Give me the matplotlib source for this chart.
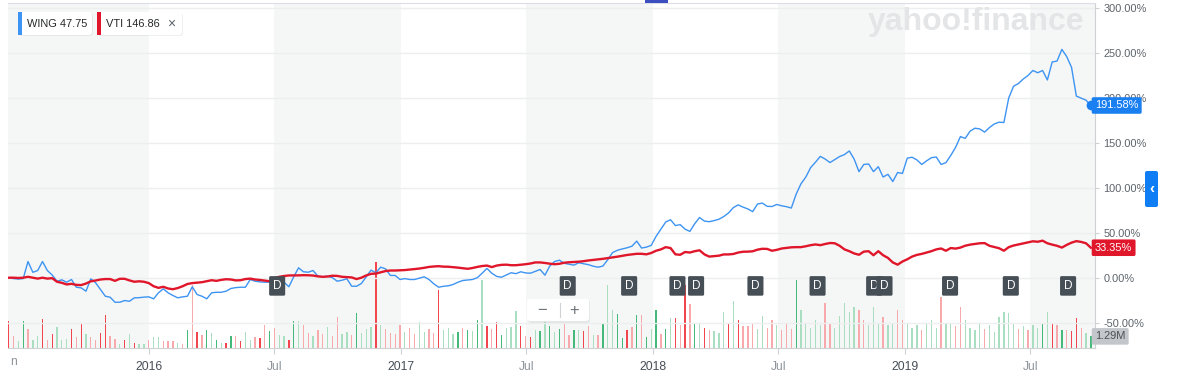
import numpy as np
import pandas as pd
import matplotlib
matplotlib.use("Agg")
import matplotlib.pyplot as plt
import matplotlib.transforms as mtransforms
from matplotlib.patches import FancyBboxPatch, Rectangle

plt.rcParams['font.family'] = ['Liberation Sans', 'DejaVu Sans']

# weekly closes, % change since 2015-06-12
start_date = "2015-06-12"
wing_pct = [
    0, -1, -1.5, -1, 18, 6, 8, 18, 8, 3,
    -3.9, -2.4, -5, -2, -10.6, -11.3, -15, -1.2, -5.7, -13.2,
    -20.6, -21.7, -27.3, -27.3, -25.4, -26.2, -22.4, -22.2, -21.6, -21.3,
    -23.5, -16.8, -12.4, -16.8, -19.8, -22.4, -21.3, -20.6, -10.1, -18.7,
    -20.6, -23.5, -16.8, -16.2, -16.2, -15, -12, -11, -10.6, -10.6,
    -2, -3.9, -4.6, -5, -5, -4.2, -3.1, -5, -10.1, 1,
    11, 6.6, 6.1, 8, 1.7, 1, 1.7, 0, -3.9, -2.8,
    -1.2, -9.5, -9.5, -6.5, 1, 8.4, 5.5, 11.7, 9.9, 2.5,
    2.5, -2, -1, -2, -2, -0.5, 1, -2, -6.8, -10.6,
    -9.5, -9, -7.5, -5, -3.1, -2.5, -2, 0, 5, 10.3,
    5, 1.5, 0.5, 3, 5.5, 4.5, 6.6, 5.3, 5, 7,
    9.1, 2.8, 13, 18, 19.5, 16, 15, 14, 16.6, 15.5,
    14.5, 12.8, 11.7, 13, 20, 28, 30.5, 32, 33.3, 35,
    40.7, 33, 34, 36, 46, 54, 62, 64.5, 58, 59,
    54, 51.5, 60, 67, 63, 62.3, 63.5, 65, 68, 72,
    78, 81, 78.5, 76.5, 73.5, 82, 83, 79.4, 79.2, 81.5,
    80, 79, 77.5, 93, 104.5, 112, 122.5, 128.5, 135, 132,
    128.1, 131.5, 134.8, 137, 141, 132, 118, 126, 126.5, 118,
    123.5, 112, 115, 107, 117, 116, 133, 134, 131, 126,
    130, 133.5, 134.3, 126, 128, 136, 145, 157, 155, 163,
    166.3, 165.5, 162, 167, 171, 173, 172.6, 200, 213, 216,
    221, 225, 230.5, 228, 230.5, 220, 240, 241, 254, 246,
    234, 202, 199.8, 197.5, 191.58,
]
vti_pct = [
    0, 0, -0.3, 0, 1, 0, -1, 0, -1, -0.5,
    -4.5, -5.7, -7.5, -6.8, -8, -8.2, -6.5, -4, -3.1, -2,
    -1.5, -1.5, -3.5, -1.2, -1.2, -3, -4.5, -4, -4.5, -6,
    -9.5, -11.3, -10.1, -12, -12.8, -11.5, -9.5, -7, -6, -5.5,
    -5, -3.9, -2.8, -3.5, -2.4, -1.7, -2, -3, -2.8, -1.5,
    -1, -2, -2.5, -3.2, -3.9, -0.5, 1, 1.9, 2.5, 2.5,
    2.6, 2.8, 2.7, 2.4, 1.5, 1, 1.3, 2.2, 2, 1,
    0.6, 0.3, -1.5, 0, 2.5, 4.3, 4.6, 6, 7.4, 8,
    8, 8.2, 8.5, 9, 9.6, 10.2, 11, 12, 12.5, 12.8,
    12.3, 12.2, 11.7, 11.2, 10.5, 9.9, 10.8, 12, 13, 13.5,
    11.8, 13.5, 14.3, 14.5, 13.9, 13.9, 14.4, 15, 15.8, 17,
    17, 16.4, 15.6, 15, 15.5, 16.7, 17.2, 17.5, 17.8, 18.4,
    19.2, 19.8, 20.4, 21, 21.8, 22.6, 23.4, 24.4, 25.3, 26,
    26.6, 26.6, 26, 27.5, 30, 31.5, 34, 33, 26, 25.5,
    28.6, 28, 29.5, 30.5, 26, 23.5, 24, 24.5, 25.9, 25.9,
    26.4, 28, 28.9, 29, 29.4, 31.2, 32.2, 32, 30, 31,
    32.5, 33.2, 33.8, 34, 34, 35, 36.2, 37, 36.2, 37.5,
    38.6, 38.3, 35.5, 31.5, 29.5, 27, 25.5, 29, 29.5, 25,
    29.5, 25, 22, 17, 14.5, 18, 20.5, 23.5, 25.4, 26.5,
    28, 29.5, 31.5, 32.5, 30, 33, 32.4, 33.5, 35.6, 36.8,
    37.5, 38.3, 38.5, 35.5, 34.2, 32.8, 30, 34, 35.8, 37,
    38.3, 39.5, 40.5, 40, 41.2, 38.3, 36.8, 35.5, 33.5, 36.5,
    39, 40.7, 39.8, 38.3, 33.35,
]
# WING weekly volume, millions
volume_m = [
    2.95, 1.37, 0.73, 2.95, 2.11, 0.92, 1.37, 3.25, 0.85, 1.55,
    2.33, 0.92, 1.03, 2.11, 1.18, 2.78, 1.55, 1.18, 0.85, 1.67,
    3.66, 1.37, 1.0, 0.48, 0.92, 1.55, 0.55, 0.44, 0.44, 0.85,
    1.22, 1.18, 0.78, 0.78, 0.81, 0.55, 0.48, 2.03, 7.03, 1.73,
    1.48, 1.95, 1.67, 0.92, 0.55, 0.55, 1.29, 1.29, 0.81, 1.78,
    0.92, 1.18, 1.07, 2.55, 1.85, 2.22, 1.44, 1.29, 0.92, 2.95,
    2.95, 2.6, 1.7, 1.3, 2.0, 1.6, 2.3, 1.3, 3.4, 1.6,
    1.8, 1.4, 3.9, 1.7, 2.1, 2.3, 9.5, 2.6, 2.1, 1.7,
    1.6, 2.6, 1.8, 2.2, 1.6, 2.9, 1.8, 2.1, 1.7, 6.4,
    2.0, 2.2, 1.59, 1.78, 2.25, 2.03, 1.92, 3.14, 7.5, 2.48,
    2.14, 2.89, 1.48, 2.22, 2.29, 4.14, 2.48, 1.29, 1.22, 1.95,
    1.92, 2.89, 2.4, 1.78, 2.14, 2.62, 1.48, 2.03, 2.03, 1.92,
    2.4, 1.48, 1.4, 2.62, 6.95, 4.17, 3.77, 1.11, 2.03, 2.29,
    3.66, 3.66, 1.22, 2.14, 4.17, 1.55, 2.14, 3.36, 3.36, 2.51,
    6.99, 4.84, 2.62, 2.81, 2.22, 2.03, 1.92, 1.67, 3.95, 2.62,
    5.17, 3.06, 2.48, 2.48, 2.8, 2.1, 3.5, 2.2, 3.1, 2.5,
    2.0, 2.8, 2.1, 7.5, 4.2, 2.8, 2.2, 3.1, 2.5, 5.0,
    2.8, 2.2, 3.5, 5.0, 4.0, 4.5, 4.2, 3.1, 2.5, 4.5,
    2.8, 3.4, 2.5, 2.8, 4.2, 3.1, 2.7, 2.2, 2.5, 2.0,
    2.8, 3.1, 2.2, 5.7, 2.8, 2.8, 2.4, 4.5, 3.1, 2.2,
    2.0, 2.8, 2.1, 2.5, 1.8, 3.4, 4.0, 3.9, 2.8, 2.1,
    2.4, 2.0, 2.5, 2.2, 2.8, 4.0, 2.7, 2.5, 2.0, 2.0,
    1.84, 3.33, 2.22, 1.67, 1.29,
]
# G/g = up week (dark/light), R/r = down week (dark/light), ten weeks per chunk
volume_tone = "".join([
    "RrgGrggRrR", "gggRrRgrrR", "RrrgRgRggr", "ggrrrgrGrR", "rGgGgRGrRg",
    "grRrGrggRG", "grrgrrgrrg", "grGgggRgrr", "rrgrrggrrR", "gggGrGgGgR",
    "rRGgggRrRg", "GgGgGrrGgR", "rgrGggGGRr", "GrGgGrGgRr", "RrGgRrgggR",
    "gRrrrggrrg", "rrrGgggggr", "rgggggrrgg", "grggrrgggr", "gggrggrrgg",
    "ggrggggggr", "grggGgRrGr", "R",
])
dividend_dates = ["2016-07-05", "2017-08-30", "2017-11-27", "2018-02-05", "2018-03-04",
                  "2018-05-29", "2018-08-27", "2018-11-17", "2018-12-02", "2019-03-07",
                  "2019-06-03", "2019-08-25"]
tickers = ["WING", "VTI"]
last_prices = ["47.75", "146.86"]

y_ticks = [-50, 0, 50, 100, 150, 200, 250, 300]
x_ticks = ["2016-01-01", "2016-07-01", "2017-01-01", "2017-07-01",
           "2018-01-01", "2018-07-01", "2019-01-01", "2019-07-01"]
x_labels = ["2016", "Jul", "2017", "Jul", "2018", "Jul", "2019", "Jul"]

blue = "#3d94f2"
red = "#e0162b"
band = "#f5f6f6"
axis_grey = "#cfd2d5"
tone_colors = {"G": "#45b97a", "g": "#a9dec0", "R": "#f2464e", "r": "#f8a9ab"}

dates = pd.date_range(start_date, periods=len(wing_pct), freq="7D")

W, H = 1178, 378
fig = plt.figure(figsize=(W / 100, H / 100), dpi=100)
rect = [8 / W, 30 / H, 1087 / W, 345 / H]
vax = fig.add_axes(rect, zorder=1)
ax = fig.add_axes(rect, zorder=2, sharex=vax)
ax.patch.set_visible(False)

x0, x1 = pd.Timestamp("2015-06-11"), pd.Timestamp("2019-10-03")
vax.set_xlim(x0, x1)
ax.set_ylim(-78.2, 305.6)
vax.set_ylim(0, 38.3)

# shaded half-year bands and grid (behind the volume)
edges = [x0] + [pd.Timestamp(d) for d in x_ticks] + [x1]
for i in range(0, len(edges) - 1, 2):
    vax.axvspan(edges[i], edges[i + 1], color=band, lw=0, zorder=0)
for v in y_ticks:
    ax.axhline(v, color="#eceeef", lw=1, zorder=1)

vax.bar(dates, volume_m, width=1.9, lw=0,
        color=[tone_colors[t] for t in volume_tone], zorder=2)
vax.set_yticks([])
for s in vax.spines.values():
    s.set_visible(False)
vax.tick_params(axis="x", bottom=False, labelbottom=False)

ax.plot(dates, wing_pct, color=blue, lw=1.0, zorder=4)
ax.plot(dates, vti_pct, color=red, lw=1.7, zorder=5)
ax.plot(dates[-1], wing_pct[-1], "o", color="#1a7ff0", ms=6, zorder=6, clip_on=False)

ax.yaxis.tick_right()
ax.set_yticks(y_ticks)
ax.set_yticklabels([f"{v:.2f}%" for v in y_ticks])
ax.tick_params(axis="y", length=3, color=axis_grey, labelcolor="#5b636a",
               labelsize=7.9, pad=3)
ax.set_xticks([pd.Timestamp(d) for d in x_ticks])
ax.set_xticklabels(x_labels)
ax.tick_params(axis="x", length=4, color=axis_grey, labelsize=8.7, pad=5)
for lab in ax.get_xticklabels():
    lab.set_color("#464e56" if lab.get_text()[0].isdigit() else "#8f959b")

ax.spines["left"].set_visible(False)
ax.spines["right"].set_color(axis_grey)
ax.spines["bottom"].set_color(axis_grey)
ax.spines["top"].set_color("#dcdde6")

# value tags at the right edge
tagtr = mtransforms.blended_transform_factory(ax.transAxes, ax.transData)
for val, col in [(wing_pct[-1], "#1a7ff0"), (vti_pct[-1], red)]:
    ax.text(1.0, val, f"{val:.2f}%", transform=tagtr, ha="left", va="center",
            fontsize=7.9, color="white", clip_on=False, zorder=7,
            bbox=dict(boxstyle="round,pad=0.3,rounding_size=0.15", fc=col, ec="none"))
voltr = mtransforms.blended_transform_factory(vax.transAxes, vax.transData)
ax.text(1.0, volume_m[-1], f"{volume_m[-1]:.2f}M", transform=voltr, ha="left",
        va="center", fontsize=7.9, color="#4a5057", clip_on=False, zorder=7,
        bbox=dict(boxstyle="round,pad=0.3,rounding_size=0.15", fc="#c3c7cc", ec="none"))

# dividend markers
divtr = mtransforms.blended_transform_factory(ax.transData, ax.transAxes)
for d in dividend_dates:
    ax.text(pd.Timestamp(d), 0.18, "D", transform=divtr, ha="center", va="center",
            fontsize=8.5, color="white", zorder=8,
            bbox=dict(boxstyle="round,pad=0.32,rounding_size=0.12", fc="#464e56", ec="none"))

# overlay in pixel coords for page furniture
ov = fig.add_axes([0, 0, 1, 1], zorder=10)
ov.set_xlim(0, W)
ov.set_ylim(H, 0)
ov.axis("off")
ov.patch.set_alpha(0)

ov.text(976, 22, "yahoo!finance", ha="center", va="center", fontsize=23,
        fontweight="heavy", color="#e4e5e7", zorder=1)

boxes = [(18, 74, blue), (97, 85, red)]
for (bx, bw, col), tk, pr in zip(boxes, tickers, last_prices):
    ov.add_patch(FancyBboxPatch((bx + 1, 13), bw, 23, boxstyle="round,pad=0,rounding_size=3",
                                fc="#000000", alpha=0.06, ec="none"))
    ov.add_patch(FancyBboxPatch((bx, 12), bw, 23, boxstyle="round,pad=0,rounding_size=3",
                                fc="white", ec="none"))
    ov.add_patch(Rectangle((bx, 12), 4, 23, fc=col, ec="none"))
    ov.text(bx + 9, 24, f"{tk} {pr}", ha="left", va="center", fontsize=7.9, color="#26282a")
ov.text(171, 23.5, "×", ha="center", va="center", fontsize=10, color="#5b636a")

# zoom control
ov.add_patch(FancyBboxPatch((528, 300), 62, 23, boxstyle="round,pad=0,rounding_size=3",
                            fc="#000000", alpha=0.06, ec="none"))
ov.add_patch(FancyBboxPatch((527, 299), 62, 22, boxstyle="round,pad=0,rounding_size=3",
                            fc="white", ec="none"))
ov.plot([559.5, 559.5], [303, 317], color="#d0d3d6", lw=0.8)
ov.text(542, 310, "−", ha="center", va="center", fontsize=12, color="#6e757c")
ov.text(574, 310, "+", ha="center", va="center", fontsize=12, color="#6e757c")

# right tab and top marker
ov.add_patch(FancyBboxPatch((1145, 171), 13, 36, boxstyle="round,pad=0,rounding_size=2",
                            fc="#0f7ef5", ec="none"))
ov.text(1151.5, 189, "‹", ha="center", va="center", fontsize=11, color="white", fontweight="bold")
ov.add_patch(Rectangle((645, 0), 23, 3, fc="#3d4fc0", ec="none"))

fig.text(10 / W, 1 - 362 / H, "n", ha="left", va="center", fontsize=8.7, color="#8f959b")

fig.savefig("out.png", dpi=100)
